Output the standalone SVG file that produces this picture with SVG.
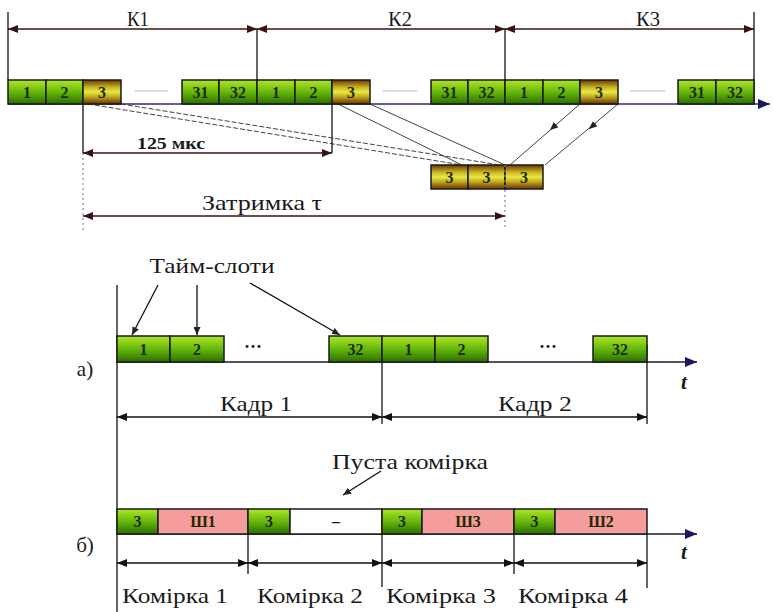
<svg xmlns="http://www.w3.org/2000/svg" width="773" height="612" viewBox="0 0 773 612">
<style>
text{font-family:'Liberation Serif','DejaVu Serif','Times New Roman',serif;fill:#1a1a1a}
.lbl{font-size:22px;text-anchor:middle}
.st{font-size:16px;font-weight:bold;text-anchor:middle;fill:#1e2a00}
.slot{stroke:#1a1a1a;stroke-width:1.5}
.g{fill:url(#gGreen)}
.y{fill:url(#gYellow)}
.p{fill:#f59c9c}
.w{fill:#ffffff}
.ln{stroke:#111;stroke-width:1.3;fill:none}
.dim{stroke:#3a1414;stroke-width:1.5;fill:none;marker-start:url(#ah);marker-end:url(#ah)}
.dimb{stroke:#111;stroke-width:1.3;fill:none;marker-start:url(#ahb);marker-end:url(#ahb)}
.dot{stroke:#888;stroke-width:1.2;stroke-dasharray:2 3;fill:none}
.conv{stroke:#444;stroke-width:1;fill:none}
.convd{stroke:#444;stroke-width:1;stroke-dasharray:5 2;fill:none}
.gap{stroke:#b8b8b8;stroke-width:1;fill:none}
</style>
<defs>
<linearGradient id="gGreen" x1="0" y1="0" x2="0" y2="1">
<stop offset="0" stop-color="#aee628"/>
<stop offset="0.5" stop-color="#66b80c"/>
<stop offset="1" stop-color="#2c6e00"/>
</linearGradient>
<linearGradient id="gYellow" x1="0" y1="0" x2="0" y2="1">
<stop offset="0" stop-color="#6a3600"/>
<stop offset="0.3" stop-color="#c8b424"/>
<stop offset="0.5" stop-color="#e6ea44"/>
<stop offset="0.7" stop-color="#c0a820"/>
<stop offset="1" stop-color="#6a3000"/>
</linearGradient>
<marker id="ah" markerUnits="userSpaceOnUse" markerWidth="11" markerHeight="8" refX="10" refY="4" orient="auto-start-reverse">
<path d="M0,0 L10,4 L0,8 z" fill="#3a1414"/>
</marker>
<marker id="ahb" markerUnits="userSpaceOnUse" markerWidth="11" markerHeight="8" refX="10" refY="4" orient="auto-start-reverse">
<path d="M0,0 L10,4 L0,8 z" fill="#111"/>
</marker>
<marker id="ahn" markerUnits="userSpaceOnUse" markerWidth="13" markerHeight="10" refX="12" refY="5" orient="auto">
<path d="M0,0 L12,5 L0,10 z" fill="#1a1a5a"/>
</marker>
<marker id="ahs" markerUnits="userSpaceOnUse" markerWidth="9" markerHeight="7" refX="8" refY="3.5" orient="auto">
<path d="M0,0 L8,3.5 L0,7 z" fill="#222"/>
</marker>
</defs>

<!-- connectors and dimension lines -->
<g id="connectors">
<line class="ln" x1="8" y1="12" x2="8" y2="80"/>
<line class="ln" x1="257" y1="29" x2="257" y2="80"/>
<line class="ln" x1="505" y1="29" x2="505" y2="80"/>
<line class="ln" x1="754" y1="12" x2="754" y2="104"/>
<line class="dim" x1="8" y1="29" x2="257" y2="29"/>
<line class="dim" x1="257" y1="29" x2="505" y2="29"/>
<line class="dim" x1="505" y1="29" x2="754" y2="29"/>
<line x1="8" y1="104" x2="770" y2="104" stroke="#2a2a7a" stroke-width="1.6" marker-end="url(#ahn)"/>
<line class="gap" x1="135" y1="91" x2="168" y2="91"/>
<line class="gap" x1="383" y1="91" x2="417" y2="91"/>
<line class="gap" x1="630" y1="91" x2="665" y2="91"/>
<line class="convd" x1="88" y1="104" x2="462" y2="165"/>
<line class="convd" x1="121" y1="104" x2="500" y2="165"/>
<line class="conv" x1="338" y1="104" x2="462" y2="165"/>
<line class="conv" x1="370" y1="104" x2="505" y2="165"/>
<line class="conv" x1="580" y1="104" x2="510" y2="165"/>
<line class="conv" x1="618" y1="104" x2="545" y2="165"/>
<line class="conv" x1="558" y1="123" x2="550" y2="130" marker-end="url(#ahs)"/>
<line class="conv" x1="596" y1="123" x2="589" y2="129" marker-end="url(#ahs)"/>
<line class="ln" x1="83" y1="104" x2="83" y2="153"/>
<line class="ln" x1="332" y1="104" x2="332" y2="153"/>
<line class="dot" x1="83" y1="153" x2="83" y2="230"/>
<line class="dot" x1="505" y1="165" x2="505" y2="230"/>
<line class="dim" x1="83" y1="153" x2="332" y2="153"/>
<line class="dim" x1="83" y1="216" x2="505" y2="216"/>

<line class="ln" x1="117" y1="285" x2="117" y2="612"/>
<line x1="117" y1="362" x2="697" y2="362" stroke="#1a1a3a" stroke-width="1.5" marker-end="url(#ahn)"/>
<line class="ln" x1="382" y1="362" x2="382" y2="424"/>
<line class="ln" x1="647" y1="345" x2="647" y2="424"/>
<line class="dimb" x1="117" y1="417" x2="382" y2="417"/>
<line class="dimb" x1="382" y1="417" x2="647" y2="417"/>
<line class="ln" x1="158" y1="285" x2="132" y2="335" marker-end="url(#ahs)"/>
<line class="ln" x1="197" y1="285" x2="197" y2="335" marker-end="url(#ahs)"/>
<line class="ln" x1="250" y1="283" x2="340" y2="335" marker-end="url(#ahs)"/>

<line x1="117" y1="534" x2="697" y2="534" stroke="#1a1a3a" stroke-width="1.5" marker-end="url(#ahn)"/>
<line class="ln" x1="248" y1="534" x2="248" y2="574"/>
<line class="ln" x1="382" y1="534" x2="382" y2="587"/>
<line class="ln" x1="514" y1="534" x2="514" y2="574"/>
<line class="ln" x1="647" y1="534" x2="647" y2="588"/>
<line class="dimb" x1="117" y1="563" x2="248" y2="563"/>
<line class="dimb" x1="248" y1="563" x2="382" y2="563"/>
<line class="dimb" x1="382" y1="563" x2="514" y2="563"/>
<line class="dimb" x1="514" y1="563" x2="647" y2="563"/>
<line class="ln" x1="381" y1="471" x2="343" y2="495" marker-end="url(#ahs)"/>
</g>

<g id="labels-top">
<text x="138" y="26" font-size="20" text-anchor="middle" textLength="22" lengthAdjust="spacingAndGlyphs">К1</text>
<text x="400" y="26" font-size="20" text-anchor="middle" textLength="24" lengthAdjust="spacingAndGlyphs">К2</text>
<text x="648" y="26" font-size="20" text-anchor="middle" textLength="24" lengthAdjust="spacingAndGlyphs">К3</text>
<text x="171" y="149" font-size="16" font-weight="bold" text-anchor="middle" textLength="68" lengthAdjust="spacingAndGlyphs">125 мкс</text>
<text x="262" y="210" font-size="21" text-anchor="middle" textLength="120" lengthAdjust="spacingAndGlyphs">Затримка τ</text>
</g>

<g id="frame-stream">
<rect class="slot g" x="8" y="80" width="38" height="24"/><text class="st" x="27" y="97.5">1</text>
<rect class="slot g" x="46" y="80" width="37" height="24"/><text class="st" x="64.5" y="97.5">2</text>
<rect class="slot y" x="83" y="80" width="38" height="24"/><text class="st" x="102" y="97.5">3</text>
<rect class="slot g" x="182" y="80" width="37" height="24"/><text class="st" x="200.5" y="97.5">31</text>
<rect class="slot g" x="219" y="80" width="38" height="24"/><text class="st" x="238" y="97.5">32</text>
<rect class="slot g" x="257" y="80" width="38" height="24"/><text class="st" x="276" y="97.5">1</text>
<rect class="slot g" x="295" y="80" width="37" height="24"/><text class="st" x="313.5" y="97.5">2</text>
<rect class="slot y" x="332" y="80" width="38" height="24"/><text class="st" x="351" y="97.5">3</text>
<rect class="slot g" x="431" y="80" width="37" height="24"/><text class="st" x="449.5" y="97.5">31</text>
<rect class="slot g" x="468" y="80" width="37" height="24"/><text class="st" x="486.5" y="97.5">32</text>
<rect class="slot g" x="505" y="80" width="38" height="24"/><text class="st" x="524" y="97.5">1</text>
<rect class="slot g" x="543" y="80" width="37" height="24"/><text class="st" x="561.5" y="97.5">2</text>
<rect class="slot y" x="580" y="80" width="38" height="24"/><text class="st" x="599" y="97.5">3</text>
<rect class="slot g" x="678" y="80" width="38" height="24"/><text class="st" x="697" y="97.5">31</text>
<rect class="slot g" x="716" y="80" width="38" height="24"/><text class="st" x="735" y="97.5">32</text>
</g>

<g id="merged-slots">
<rect class="slot y" x="431" y="165" width="37" height="24"/><text class="st" x="449.5" y="182.5">3</text>
<rect class="slot y" x="468" y="165" width="37" height="24"/><text class="st" x="486.5" y="182.5">3</text>
<rect class="slot y" x="505" y="165" width="38" height="24"/><text class="st" x="524" y="182.5">3</text>
<line class="dot" x1="505" y1="165" x2="505" y2="189"/>
</g>

<g id="section-a">
<text class="lbl" x="212" y="273" textLength="125" lengthAdjust="spacingAndGlyphs">Тайм-слоти</text>
<text x="85" y="376" font-size="21" text-anchor="middle">а)</text>
<rect class="slot g" x="117" y="336" width="53" height="26"/><text class="st" x="143.5" y="355">1</text>
<rect class="slot g" x="170" y="336" width="54" height="26"/><text class="st" x="197" y="355">2</text>
<text x="253" y="353" font-size="18" font-weight="bold" text-anchor="middle">···</text>
<rect class="slot g" x="329" y="336" width="53" height="26"/><text class="st" x="355.5" y="355">32</text>
<rect class="slot g" x="382" y="336" width="53" height="26"/><text class="st" x="408.5" y="355">1</text>
<rect class="slot g" x="435" y="336" width="53" height="26"/><text class="st" x="461.5" y="355">2</text>
<text x="548" y="353" font-size="18" font-weight="bold" text-anchor="middle">···</text>
<rect class="slot g" x="593" y="336" width="54" height="26"/><text class="st" x="620" y="355">32</text>
<text x="684" y="389" font-size="21" font-style="italic" font-weight="bold" text-anchor="middle">t</text>
<text class="lbl" x="256" y="411" textLength="72" lengthAdjust="spacingAndGlyphs">Кадр 1</text>
<text class="lbl" x="535" y="411" textLength="74" lengthAdjust="spacingAndGlyphs">Кадр 2</text>
</g>

<g id="section-b">
<text class="lbl" x="410" y="469" textLength="156" lengthAdjust="spacingAndGlyphs">Пуста комірка</text>
<text x="85" y="552" font-size="21" text-anchor="middle">б)</text>
<rect class="slot g" x="117" y="509" width="41" height="25"/><text class="st" x="137.5" y="527">3</text>
<rect class="slot p" x="158" y="509" width="90" height="25"/><text class="st" x="203" y="527">Ш1</text>
<rect class="slot g" x="248" y="509" width="42" height="25"/><text class="st" x="269" y="527">3</text>
<rect class="slot w" x="290" y="509" width="92" height="25"/><text class="st" x="336" y="527">–</text>
<rect class="slot g" x="382" y="509" width="40" height="25"/><text class="st" x="402" y="527">3</text>
<rect class="slot p" x="422" y="509" width="92" height="25"/><text class="st" x="468" y="527">Ш3</text>
<rect class="slot g" x="514" y="509" width="41" height="25"/><text class="st" x="534.5" y="527">3</text>
<rect class="slot p" x="555" y="509" width="92" height="25"/><text class="st" x="601" y="527">Ш2</text>
<text x="684" y="559" font-size="21" font-style="italic" font-weight="bold" text-anchor="middle">t</text>
<text class="lbl" x="175" y="603" textLength="106" lengthAdjust="spacingAndGlyphs">Комірка 1</text>
<text class="lbl" x="310" y="603" textLength="106" lengthAdjust="spacingAndGlyphs">Комірка 2</text>
<text class="lbl" x="441" y="603" textLength="110" lengthAdjust="spacingAndGlyphs">Комірка 3</text>
<text class="lbl" x="573" y="603" textLength="110" lengthAdjust="spacingAndGlyphs">Комірка 4</text>
</g>
</svg>
